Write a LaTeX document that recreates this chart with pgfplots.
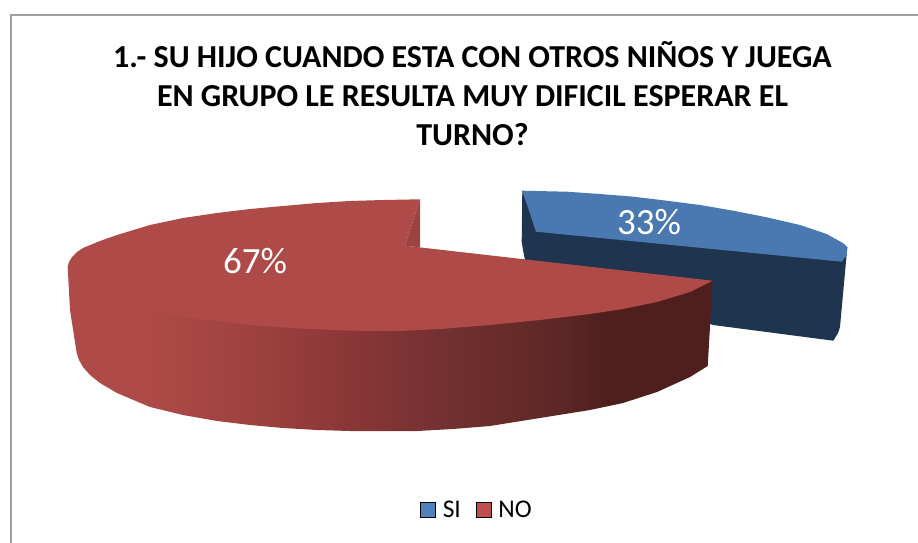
\documentclass[border=0pt]{standalone}
\usepackage{pgfplots}
\pgfplotsset{compat=1.18}
\usepackage{fontspec}
\setmainfont{Carlito}
\definecolor{bframe}{HTML}{A0A0A0}
\definecolor{blueTop}{HTML}{4A78B0}
\definecolor{blueDark}{HTML}{1F344F}
\definecolor{redTop}{HTML}{AE4A47}
\definecolor{redIn}{HTML}{9C4240}
\definecolor{legB}{HTML}{4F81BD}
\definecolor{legR}{HTML}{C0504D}
\definecolor{w0}{HTML}{AE4A47}
\definecolor{w1}{HTML}{9E4240}
\definecolor{w2}{HTML}{8A3636}
\definecolor{w3}{HTML}{723030}
\definecolor{w4}{HTML}{5F2826}
\definecolor{w5}{HTML}{4E1F1D}
\pgfdeclarehorizontalshading{wallshade}{100bp}{color(0bp)=(w0); color(31bp)=(w0); color(39bp)=(w1); color(47bp)=(w2); color(54.5bp)=(w3); color(62.5bp)=(w4); color(67bp)=(w5); color(100bp)=(w5)}
\begin{document}
\begin{tikzpicture}
\begin{axis}[
  scale only axis, width=918pt, height=543pt,
  xmin=0, xmax=918, ymin=0, ymax=543, y dir=reverse,
  hide axis, clip=true,
  legend image code/.code={\fill[#1] (0pt,-7.5pt) rectangle (15pt,7.5pt); \path (20pt,0pt);},
  legend cell align=left,
  legend columns=2,
  legend style={draw=none, fill=none, at={(axis cs:477,510)}, anchor=center,
    font=\fontsize{25.5}{25.5}\selectfont, inner sep=0pt,
    /tikz/every even column/.append style={column sep=13pt}},
]
% chart frame
\addplot[bframe, line width=2pt, forget plot] coordinates {(11,543) (11,15) (918,15)};
% legend entries
\addlegendimage{fill=legB}
\addlegendentry{SI}
\addlegendimage{fill=legR}
\addlegendentry{NO}
% SI slice: side
\addplot[fill=blueDark, draw=none, forget plot] coordinates {
 (522.3,190.7) (521.7,241.7) (523,250) (525,260) (713,325) (833.3,340.7) (838,333) (840,327)
 (847.3,247.3) (522.3,190.7)};
% SI slice: top
\addplot[fill=blueTop, draw=none, forget plot] coordinates {
 (522.3,190.7) (566.7,191.7) (600,194) (633.3,196.7) (666.7,200.7) (700,205) (733.3,210.7)
 (766.7,217.3) (800,225) (826.7,234) (843.3,243.3) (847.3,247.3) (846.7,255) (841.7,261.7)
 (536,231.7) (522.3,190.7)};
% NO slice: front wall
\addplot[shading=wallshade, shading angle=0, draw=none, forget plot] coordinates {
 (67.7,266.7) (70,310) (76.7,353) (79,360) (83,367) (90,375) (100,383) (117,393) (150,407) (183,415) (217,421) (250,425)
 (283,428) (317,430) (350,431) (383,431) (417,431) (453,429) (490,426) (540,418) (590,410)
 (623,403) (657,392) (690,377) (707.7,366) (712.7,280.7) (400,280) (67.7,266.7)};
% NO slice: inner wall
\addplot[fill=redIn, draw=none, forget plot] coordinates {
 (420,199.3) (405,245.7) (420,247.4) (420,199.3)};
% NO slice: top
\addplot[fill=redTop, draw=none, forget plot] coordinates {
 (67.7,266.7) (69,262) (72,257) (77,252) (83,248) (100,241) (117,235) (150,225) (183,218) (217,213) (250,209)
 (283,206) (317,203) (350,201) (383,200) (420,199.3) (405,245.7) (712.7,280.7) (690,292)
 (657,302) (623,309) (590,314) (540,320) (490,325) (440,329) (400,331) (350,330.7) (300,328.5)
 (250,325) (200,319) (150,311.7) (125,305) (100,296.7) (80,285) (70,275) (67.7,266.7)};
% data labels
\node[text=white, font=\fontsize{37}{37}\selectfont] at (axis cs:649,222) {33\%};
\node[text=white, font=\fontsize{37}{37}\selectfont] at (axis cs:255,261) {67\%};
% title
\node[align=center, font=\fontsize{32}{39}\selectfont\bfseries, inner sep=0pt] at (axis cs:472.5,94)
 {1.- SU HIJO CUANDO ESTA CON OTROS NIÑOS Y JUEGA\\ EN GRUPO LE RESULTA MUY DIFICIL ESPERAR EL\\ TURNO?};
% keeps the page as large as the axis
\path (axis cs:0,0) rectangle (axis cs:918,543);
\end{axis}
\end{tikzpicture}
\end{document}
